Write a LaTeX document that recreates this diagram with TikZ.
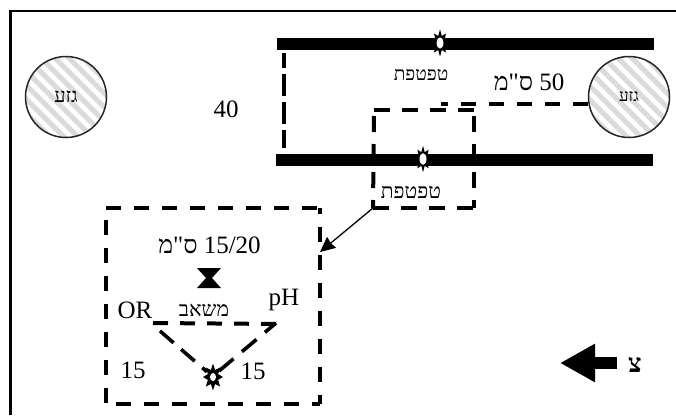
\documentclass[tikz,border=0pt]{standalone}
\usepackage{fontspec}
\setmainfont{Liberation Serif}[Ligatures=TeXOff]
\usetikzlibrary{arrows.meta,shapes.geometric}
\TeXXeTstate=1
\newcommand{\heb}[1]{\beginR #1\endR}
\definecolor{stripegray}{gray}{0.86}
\tikzset{
  x=1pt,y=-1pt,
  pipe/.style={line width=12pt},
  dashbox/.style={line width=4pt,dash pattern=on 16pt off 12pt},
  lbl/.style={inner sep=0pt,font=\fontsize{25}{26}\selectfont},
  heblbl/.style={inner sep=0pt,font=\fontsize{21}{22}\selectfont},
  trunk/.style={circle,draw=black!85,line width=1.5pt,minimum size=81pt,inner sep=0pt,font=\fontsize{20}{21}\selectfont,
    path picture={
      \foreach \t in {-112,-98,...,112}{
        \draw[stripegray,line width=5pt] ([shift={(\t-60,-60)}]path picture bounding box.center) -- ([shift={(\t+60,60)}]path picture bounding box.center);
      }
    }},
  dripper/.style={star,star points=8,star point ratio=1.8,fill=black,inner sep=0pt,transform shape},
  hole/.style={circle,fill=white,minimum size=7pt,inner sep=0pt,transform shape}
}
\begin{document}
\begin{tikzpicture}
\useasboundingbox (0,0) rectangle (676,415);
\draw[line width=2.6pt] (10.5,415) -- (10.5,11) -- (676,11);
\coordinate (p1a) at (277,44); \coordinate (p1b) at (654,44);
\coordinate (p2a) at (276,160); \coordinate (p2b) at (653,160);
\draw[pipe] (p1a) -- (p1b);
\draw[pipe] (p2a) -- (p2b);
\node[trunk] (t1) at (66,97) {\heb{גזע}};
\node[trunk,font=\fontsize{17}{18}\selectfont] (t2) at (629,97) {\heb{גזע}};
\begin{scope}[shift={(440,43)},yscale=1.6]
  \node[dripper,minimum size=17pt] (d1) at (0,0) {};
  \node[hole] at (0,0) {};
\end{scope}
\begin{scope}[shift={(423,159)},yscale=1.65]
  \node[dripper,minimum size=16pt] (d2) at (0,0) {};
  \node[hole] at (0,0) {};
\end{scope}
\node[heblbl,font=\fontsize{19}{20}\selectfont] (w1) at (421,75) {\heb{טפטפת}};
\node[heblbl] (w2) at (411,192) {\heb{טפטפת}};
\node[lbl] (n40) at (226,109) {40};
\node[lbl] (n50) at (529,82) {\heb{\beginL 50\endL{} ס"מ}};
\coordinate (b1) at (284,53);
\coordinate (b2) at (284,148);
\draw[line width=4pt,dash pattern=on 22pt off 6pt,dash phase=7pt] (b1) -- (b2);
\coordinate (m1) at (441,104);
\draw[dashbox,dash pattern=on 15pt off 13pt] (m1 -| t2.west) -- (m1);
\coordinate (za) at (374,110);
\coordinate (zb) at (474,110);
\coordinate (zc) at (474,208);
\coordinate (zd) at (373,208);
\draw[dashbox] (za) -- (zb);
\draw[dashbox,dash pattern=on 16pt off 12pt,dash phase=22pt] (zb) -- (zc);
\draw[dashbox] (zd) -- (zc);
\draw[dashbox,dash pattern=on 16pt off 12pt,dash phase=22pt] (za) -- (zd);
\coordinate (ia) at (106,208);
\coordinate (ib) at (320,208);
\coordinate (ic) at (320,404);
\coordinate (id) at (106,404);
\draw[dashbox,dash pattern=on 15pt off 13pt] (ia) -- (ib);
\draw[dashbox,dash pattern=on 15pt off 13pt,dash phase=9pt] (ib) -- (ic);
\draw[dashbox,dash pattern=on 15pt off 13pt,dash phase=16pt] (ia) -- (id);
\draw[dashbox,dash pattern=on 15pt off 13pt,dash phase=18pt] (id) -- (ic);
\coordinate (tip) at (320,252);
\draw[line width=1.3pt,-{Stealth[length=15pt,width=14pt,inset=1pt]}] (zd) -- (tip);
\node[lbl] (n1520) at (209.5,245) {\heb{\beginL 15/20\endL{} ס"מ}};
\fill (197,268) -- (221,268) -- (212,278) -- (221,288) -- (197,288) -- (206,278) -- cycle;
\node[heblbl] (m) at (204,310) {\heb{משאב}};
\node[lbl] (or) at (135,310) {OR};
\node[lbl] (ph) at (284,300) {pH};
\node[lbl] (a15) at (133,370) {15};
\node[lbl] (b15) at (253,371) {15};
\begin{scope}[shift={(213,377)},yscale=1.35]
  \node[dripper,minimum size=20pt] (d3) at (0,0) {};
  \node[hole,minimum size=6pt] at (0,0) {};
\end{scope}
\coordinate (ml) at (153,323);
\coordinate (mr) at (280,324);
\coordinate (dl) at (160,331);
\coordinate (dt) at (219,371);
\coordinate (dr) at (276,323);
\draw[dashbox,dash pattern=on 15pt off 12pt] (ml) -- (mr);
\draw[line width=3.6pt,dash pattern=on 18pt off 10pt] (dl) -- (d3);
\draw[line width=3.6pt,dash pattern=on 19pt off 11pt] (dt) -- (dr);
\coordinate (ne) at (617,363);
\coordinate (nw) at (560,363);
\draw[line width=12pt,-{Triangle[length=35pt,width=36pt]}] (ne) -- (nw);
\node[font=\bfseries\fontsize{26}{27}\selectfont,inner sep=0pt] (nl) at (635,365) {\heb{צ}};
\end{tikzpicture}
\end{document}
